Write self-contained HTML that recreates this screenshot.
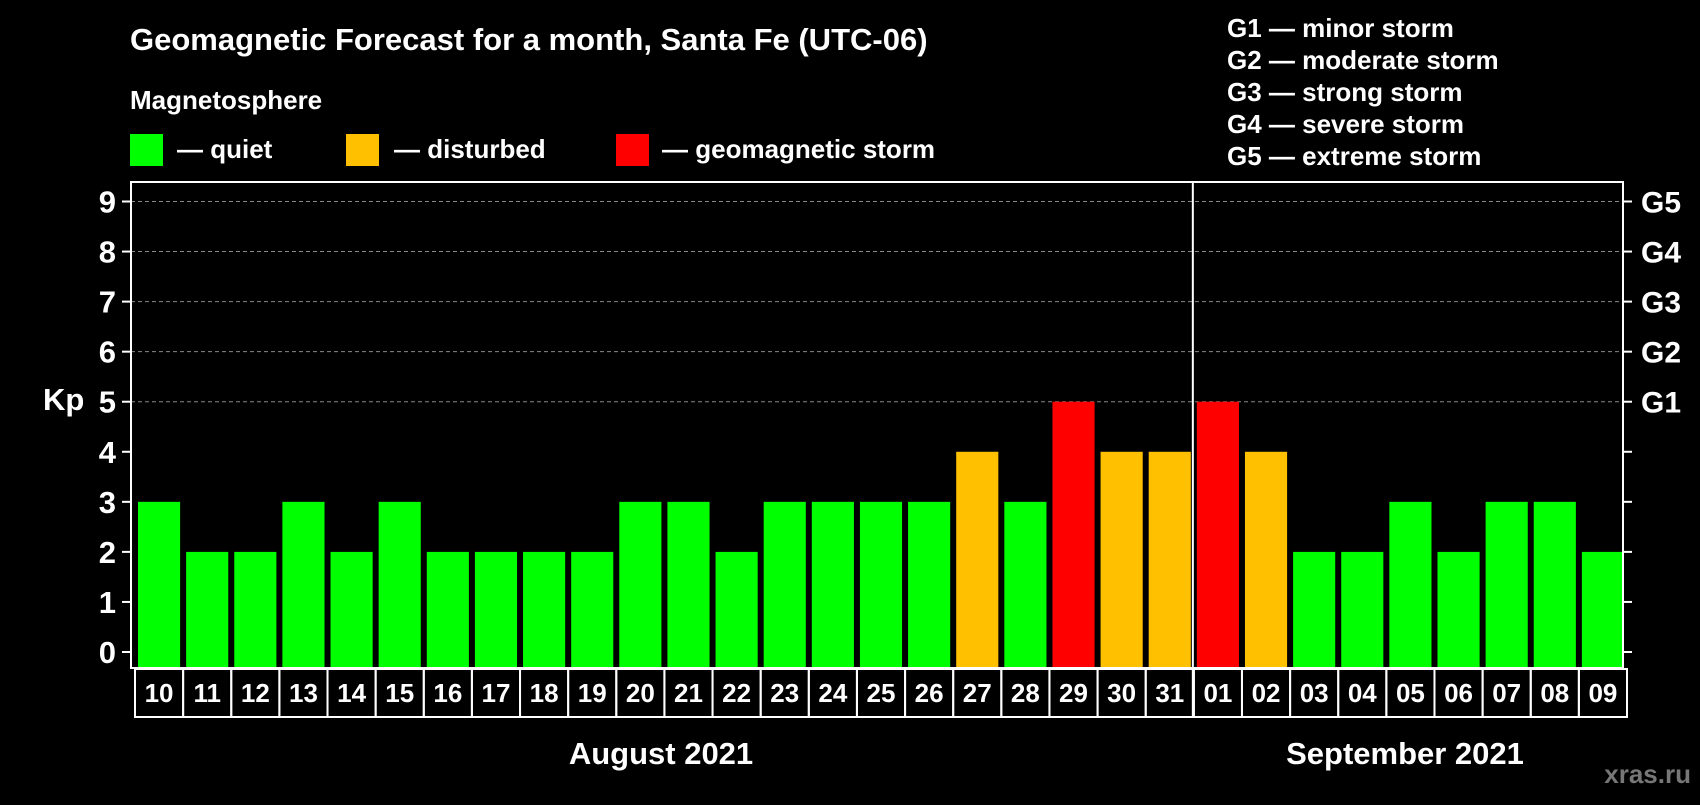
<!DOCTYPE html>
<html><head><meta charset="utf-8"><style>
body{margin:0;background:#000;width:1700px;height:800px;overflow:hidden;font-family:"Liberation Sans",sans-serif;font-weight:bold;color:#fff}
</style></head><body>
<svg id="c" width="1700" height="800" xmlns="http://www.w3.org/2000/svg" font-family="Liberation Sans, sans-serif" font-weight="bold">
<text x="130" y="50" font-size="31" fill="#fff">Geomagnetic Forecast for a month, Santa Fe (UTC-06)</text>
<text x="130" y="109" font-size="26" fill="#fff">Magnetosphere</text>
<rect x="130" y="134" width="33" height="32" fill="#00ff00"/>
<text x="177" y="158" font-size="26" fill="#fff">— quiet</text>
<rect x="346" y="134" width="33" height="32" fill="#ffc000"/>
<text x="394" y="158" font-size="26" fill="#fff">— disturbed</text>
<rect x="616" y="134" width="33" height="32" fill="#ff0000"/>
<text x="662" y="158" font-size="26" fill="#fff">— geomagnetic storm</text>
<g font-size="26" fill="#fff">
<text x="1227" y="37">G1 — minor storm</text>
<text x="1227" y="69">G2 — moderate storm</text>
<text x="1227" y="101">G3 — strong storm</text>
<text x="1227" y="133">G4 — severe storm</text>
<text x="1227" y="165">G5 — extreme storm</text>
</g>
<text x="43" y="410" font-size="31" fill="#fff">Kp</text>
<text x="661" y="764" font-size="31" fill="#fff" text-anchor="middle">August 2021</text>
<text x="1405" y="764" font-size="31" fill="#fff" text-anchor="middle">September 2021</text>
<text x="1691" y="783" font-size="26" fill="#777" text-anchor="end">xras.ru</text>
<g id="plot"></g>
</svg>
<script>
const days=["10","11","12","13","14","15","16","17","18","19","20","21","22","23","24","25","26","27","28","29","30","31","01","02","03","04","05","06","07","08","09"];
const kp=[3,2,2,3,2,3,2,2,2,2,3,3,2,3,3,3,3,4,3,5,4,4,5,4,2,2,3,2,3,3,2];
const yTicks=[0,1,2,3,4,5,6,7,8,9];
const gLabels=["","","","","","G1","G2","G3","G4","G5"];
const NS="http://www.w3.org/2000/svg";
const L=131,R=1623,T=182,B=668,Y0=652,Y9=201.5;
const n=days.length,pitch=(R-L)/n;
const y=v=>Y0+(Y9-Y0)*v/9;
const x=i=>L+i*pitch;
const g=document.getElementById('plot');
function mk(t,a){const e=document.createElementNS(NS,t);for(const k in a)e.setAttribute(k,a[k]);g.appendChild(e);return e;}
yTicks.forEach((v,i)=>{
 if(v>=5){const l=mk('line',{x1:L,x2:R,y1:y(v),y2:y(v),stroke:'#888','stroke-width':1,'stroke-dasharray':'4,3'});
 
 }
 const t1=mk('line',{x1:L-9,x2:L,y1:y(v),y2:y(v),stroke:'#fff','stroke-width':2});
 
 
 const t2=mk('line',{x1:R,x2:R+9,y1:y(v),y2:y(v),stroke:'#fff','stroke-width':2});
 
 
 const tl=mk('text',{x:L-15,y:y(v)+11,'font-size':31,fill:'#fff','text-anchor':'end'});tl.textContent=v;
 
 
 if(gLabels[i]){const gl=mk('text',{x:R+18,y:y(v)+11,'font-size':30,fill:'#fff'});gl.textContent=gLabels[i];
 
 }
});
kp.forEach((v,i)=>{
 const col=v>=5?'#ff0000':(v>=4?'#ffc000':'#00ff00');
 const b=mk('rect',{x:x(i)+7,y:y(v),width:pitch-6,height:B-y(v),fill:col});
 
 
 const c=mk('rect',{x:x(i)+4,y:B+1,width:pitch,height:48,fill:'none',stroke:'#fff','stroke-width':2});
 
 
 const t=mk('text',{x:x(i)+4+pitch/2,y:B+34,'font-size':26,fill:'#fff','text-anchor':'middle'});t.textContent=days[i];
 
 
});
const fr=mk('rect',{x:L,y:T,width:R-L,height:B-T,fill:'none',stroke:'#fff','stroke-width':2});


const si=days.indexOf("01");
const sep=mk('line',{x1:x(si)+3,x2:x(si)+3,y1:T,y2:B+49,stroke:'#fff','stroke-width':2});


</script>
</body></html>
